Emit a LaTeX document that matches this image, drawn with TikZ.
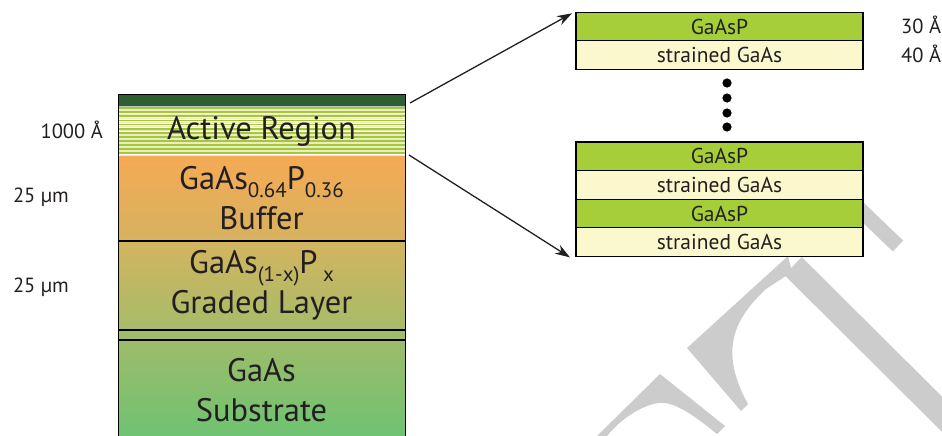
\documentclass[tikz,border=0pt]{standalone}
\usepackage{fontspec}
\setmainfont{PT Sans}
\usepackage{tikz}
\usetikzlibrary{arrows.meta, positioning, calc}

\definecolor{inkgrey}{RGB}{35,31,32}
\definecolor{capgreen}{RGB}{46,95,50}
\definecolor{stripegreen}{RGB}{160,202,55}
\definecolor{stripecream}{RGB}{238,234,195}
\definecolor{buftop}{RGB}{245,170,85}
\definecolor{bufbot}{RGB}{214,178,95}
\definecolor{gradtop}{RGB}{212,180,95}
\definecolor{gradbot}{RGB}{166,188,105}
\definecolor{spacergreen}{RGB}{160,190,105}
\definecolor{subtop}{RGB}{158,188,105}
\definecolor{subbot}{RGB}{108,195,115}
\definecolor{wellgreen}{RGB}{166,206,57}
\definecolor{wellcream}{RGB}{252,248,206}
\definecolor{wmgrey}{RGB}{204,204,204}

\newcommand{\lsub}[1]{\raisebox{-8pt}{\fontsize{21}{21}\selectfont #1}}

\begin{document}
\begin{tikzpicture}[x=1pt, y=-1pt,
    stack/.style={minimum width=287pt, inner sep=0pt, outer sep=0pt, anchor=north west,
      text=inkgrey, align=center, font=\fontsize{32.5}{40}\selectfont},
    well/.style={draw=black, line width=1.2pt, minimum width=287pt, minimum height=28.6pt,
      inner sep=0pt, outer sep=0pt, anchor=north west, text=inkgrey, font=\fontsize{21.5}{24}\selectfont},
    barrier/.style={well, fill=wellgreen},
    qwell/.style={well, fill=wellcream},
    divider/.style={line width=2.4pt, black},
    zoomarrow/.style={-{Stealth[length=15pt, width=10pt]}, line width=1.3pt, inkgrey},
    sidelabel/.style={text=inkgrey, font=\fontsize{20.5}{24}\selectfont, inner sep=0pt}]
  \useasboundingbox (0,0) rectangle (942,436);

  % watermark
  \draw[wmgrey, line width=15pt] (850,200) -- (898,246);
  \draw[wmgrey, line width=25pt] (793,266) -- (980,452);
  \fill[wmgrey] (687,348) -- (788,256) -- (792,272) -- (766,289)
    .. controls (735,318) and (718,350) .. (748,404) -- (741,411) -- cycle;
  \fill[wmgrey] (597,436) -- (660,374) -- (725,426) -- (717,434)
    .. controls (690,412) and (672,401) .. (658,403)
    .. controls (640,406) and (620,420) .. (607,436) -- cycle;

  % layer stack
  \node[stack, minimum height=12pt, fill=capgreen, draw=black, line width=1pt] (cap) at (118,94) {};
  \foreach \i in {0,...,11} {
    \fill[stripegreen] (118,107.2+\i*4.1) rectangle (405,109+\i*4.1);
    \fill[stripecream] (118,109.4+\i*4.1) rectangle (405,110.9+\i*4.1);
  }
  \node[stack, minimum height=50pt, draw=black!25, line width=1pt] (active) at (118,106) {Active Region};
  \node[stack, minimum height=85pt, top color=buftop, bottom color=bufbot] (buffer) at (118,156)
    {GaAs\lsub{0.64}P\lsub{0.36}\\Buffer};
  \node[stack, minimum height=89pt, top color=gradtop, bottom color=gradbot] (graded) at (118,241)
    {GaAs\lsub{(1-x)}P\,\lsub{x}\\Graded Layer};
  \node[stack, minimum height=10pt, fill=spacergreen] (spacer) at (118,330) {};
  \node[stack, minimum height=100pt, top color=subtop, bottom color=subbot] (substrate) at (118,340)
    {GaAs\\Substrate};
  \draw[line width=1pt] (cap.north west) -- (substrate.south west);
  \draw[line width=1pt] (cap.north east) -- (substrate.south east);
  \draw[divider] (buffer.south west) -- (buffer.south east);
  \draw[divider] (graded.south west) -- (graded.south east);
  \draw[divider] (spacer.south west) -- (spacer.south east);

  \node[sidelabel, anchor=base east] (thickA) at (103,138) {1000 Å};
  \node[sidelabel, anchor=base east] (thickB) at (69,202) {25 µm};
  \node[sidelabel, anchor=base east] (thickC) at (69,292) {25 µm};

  % quantum wells
  \node[barrier] (barA) at (576,12.3) {GaAsP};
  \node[qwell, below=0pt of barA] (wellA) {strained GaAs};
  \node[barrier] (barB) at (576,142) {GaAsP};
  \node[qwell, below=0pt of barB] (wellB) {strained GaAs};
  \node[barrier, below=0pt of wellB] (barC) {GaAsP};
  \node[qwell, below=0pt of barC] (wellC) {strained GaAs};
  \foreach \y in {83,98,113,127} \fill[black] (727,\y) circle (4.6pt);

  \node[sidelabel, anchor=base west] (thickD) at (901,34) {30 Å};
  \node[sidelabel, anchor=base west] (thickE) at (901,63) {40 Å};

  \draw[zoomarrow] ([xshift=5pt,yshift=3pt]active.north east) -- ([xshift=-4pt,yshift=-1pt]barA.north west);
  \draw[zoomarrow] ([xshift=4pt,yshift=1pt]active.south east) -- ([xshift=-6pt,yshift=-1pt]wellC.south west);
\end{tikzpicture}
\end{document}
